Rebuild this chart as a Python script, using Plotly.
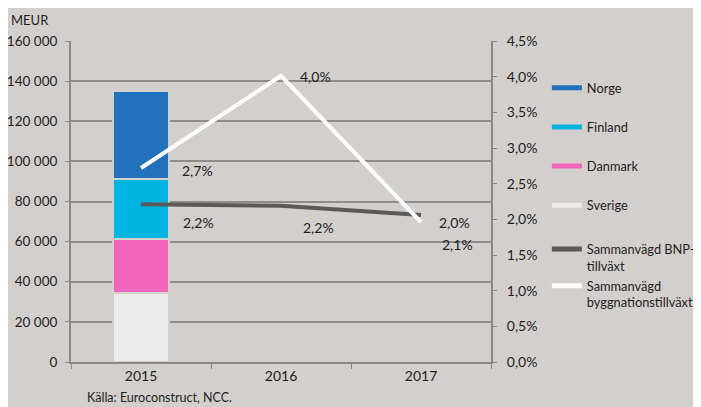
import plotly.graph_objects as go

# data
years = ["2015", "2016", "2017"]
bar_year = ["2015"]
sverige = [34500]
danmark = [27000]
finland = [29500]
norge = [44000]
bnp_growth = [2.21, 2.19, 2.06]          # Sammanvägd BNP-tillväxt, %
bygg_growth = [2.72, 4.01, 1.96]         # Sammanvägd byggnationstillväxt, %

BG = "#d3cfcc"
FONT = "Lato"
TXT = "#1e1e1e"
AXIS = "#8a8887"

fig = go.Figure()

stack = [
    ("Sverige", sverige, "#ececec"),
    ("Danmark", danmark, "#f165bd"),
    ("Finland", finland, "#00b4e1"),
    ("Norge", norge, "#2172ba"),
]
for name, vals, col in stack:
    fig.add_trace(go.Bar(
        x=bar_year, y=vals, name=name, marker_color=col,
        marker_line=dict(color=BG, width=2), width=0.4,
        showlegend=False,
    ))

fig.add_trace(go.Scatter(
    x=years, y=[v / 100 for v in bnp_growth], yaxis="y2", mode="lines",
    line=dict(color="#5a5a5a", width=4), showlegend=False,
))
fig.add_trace(go.Scatter(
    x=years, y=[v / 100 for v in bygg_growth], yaxis="y2", mode="lines",
    line=dict(color="white", width=4), showlegend=False,
))

# legend entries drawn as short thick lines like the original
legend_items = [
    ("Norge", "#2172ba", "legend"),
    ("Finland", "#00b4e1", "legend"),
    ("Danmark", "#f165bd", "legend"),
    ("Sverige", "#ececec", "legend"),
    ("Sammanvägd BNP-<br>tillväxt", "#5a5a5a", "legend2"),
    ("Sammanvägd<br>byggnationstillväxt", "white", "legend2"),
]
for i, (name, col, leg) in enumerate(legend_items):
    fig.add_trace(go.Scatter(
        x=[None], y=[None], mode="lines", name=name, legendgroup=str(i),
        legend=leg, line=dict(color=col, width=5),
    ))

# data labels (moved by hand in the original); x given as category index
label_offsets_bygg = [(39, -3), (17, -1), (16, 0)]
label_offsets_bnp = [(40, -18), (20, -22), (19, -29)]
annotations = []
for vals, offs in ((bygg_growth, label_offsets_bygg), (bnp_growth, label_offsets_bnp)):
    for i, (v, (dx, dy)) in enumerate(zip(vals, offs)):
        annotations.append(dict(
            x=i, y=v / 100, xref="x", yref="y2",
            text=f"{v:.1f}%".replace(".", ","),
            showarrow=False, xanchor="left", xshift=dx, yshift=dy,
            font=dict(family=FONT, size=14, color=TXT),
        ))

annotations.append(dict(
    x=-0.098, y=1.065, xref="paper", yref="paper", xanchor="center", yanchor="middle",
    text="MEUR", showarrow=False,
    font=dict(family=FONT, size=13, color=TXT),
))
annotations.append(dict(
    x=0.034, y=-0.112, xref="paper", yref="paper", xanchor="left", yanchor="middle",
    text="Källa: Euroconstruct, NCC.", showarrow=False,
    font=dict(family=FONT, size=12.5, color=TXT),
))

legend_font = dict(family=FONT, size=12.8, color=TXT)

# the page body adds an 8px offset, so the figure is 8px smaller each way
fig.update_layout(
    width=693, height=399,
    margin=dict(l=63, r=210, t=33, b=45, autoexpand=False),
    paper_bgcolor=BG, plot_bgcolor=BG,
    barmode="stack",
    separators=", ",
    font=dict(family=FONT, size=13, color=TXT),
    xaxis=dict(
        type="category", categoryorder="array", categoryarray=years,
        range=[-0.5, 2.5], tickson="boundaries", ticks="outside", ticklen=5,
        tickcolor=AXIS, showline=True, linecolor=AXIS, linewidth=2,
        showgrid=False, tickfont=dict(size=14), automargin=False,
    ),
    yaxis=dict(
        range=[0, 160000], dtick=20000, tickformat=",d",
        showline=True, linecolor=AXIS, linewidth=2,
        ticks="outside", ticklen=4, tickcolor=AXIS, ticklabelstandoff=5,
        gridcolor="#8f8c8a", gridwidth=1.5, zeroline=False,
        tickfont=dict(size=13.5), automargin=False,
    ),
    yaxis2=dict(
        overlaying="y", side="right", range=[0, 0.045], dtick=0.005,
        tickformat=".1%", showline=True, linecolor=AXIS, linewidth=2,
        ticks="outside", ticklen=4, tickcolor=AXIS, showgrid=False,
        ticklabelstandoff=7, zeroline=False, tickfont=dict(size=14),
        automargin=False,
    ),
    legend=dict(
        x=1.133, y=0.9003, xanchor="left", yanchor="top",
        bgcolor="rgba(0,0,0,0)", tracegroupgap=19.5, font=legend_font,
    ),
    legend2=dict(
        x=1.133, y=0.3985, xanchor="left", yanchor="top", valign="top",
        bgcolor="rgba(0,0,0,0)", tracegroupgap=0.5, font=legend_font,
    ),
    annotations=annotations,
)

fig.write_html("out.html")
